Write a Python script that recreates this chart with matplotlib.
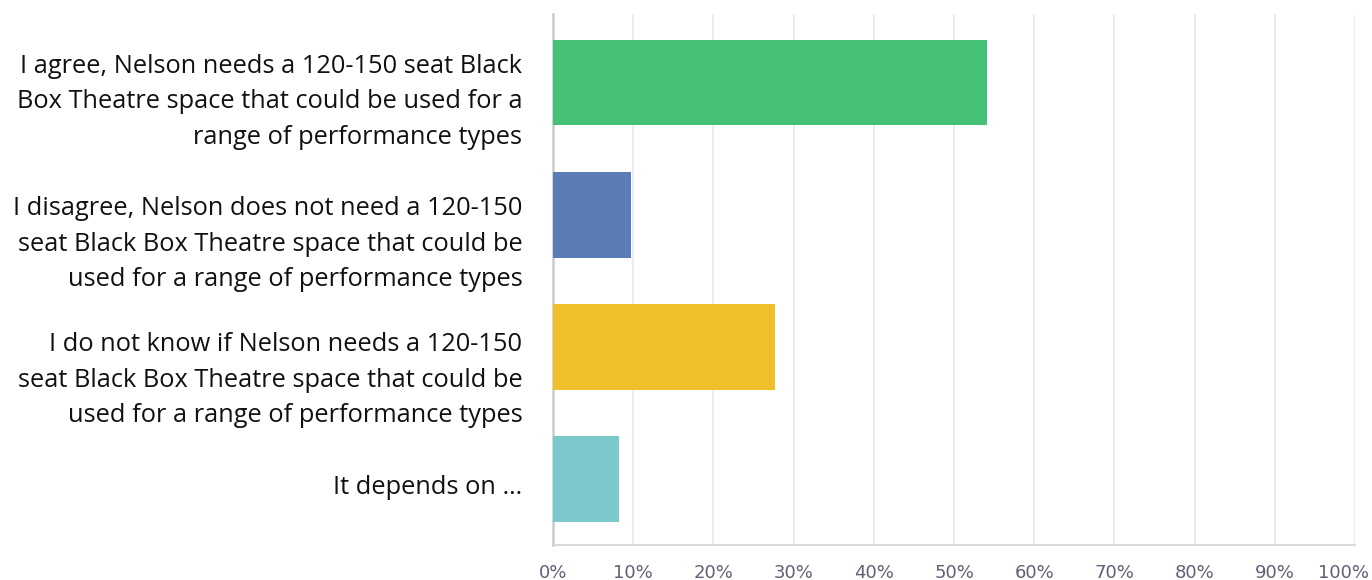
import matplotlib
matplotlib.use("Agg")
import matplotlib.pyplot as plt
from matplotlib.ticker import PercentFormatter
from matplotlib.transforms import ScaledTranslation

categories = [
    "I agree, Nelson needs a 120-150 seat Black\nBox Theatre space that could be used for a\nrange of performance types",
    "I disagree, Nelson does not need a 120-150\nseat Black Box Theatre space that could be\nused for a range of performance types",
    "I do not know if Nelson needs a 120-150\nseat Black Box Theatre space that could be\nused for a range of performance types",
    "It depends on \u2026",
]
values = [54.1, 9.7, 27.7, 8.2]
colors = ["#44c176", "#5b7db6", "#f1be2c", "#7cc9cc"]
xticks = list(range(0, 101, 10))

# vertical offsets (in pixels, downward) of the category labels as placed in the original
label_shift_px = [11, 21, 25, 6]

fig = plt.figure(figsize=(13.72, 5.8), dpi=100)
ax = fig.add_axes([0.4031, 0.0603, 0.9876 - 0.4031, 0.9759 - 0.0603])
y = list(range(len(categories)))
ax.barh(y, values, height=0.647, color=colors, zorder=3)
ax.set_ylim(3.5, -0.52)
ax.set_xlim(0, 100)
ax.set_xticks(xticks)
ax.xaxis.set_major_formatter(PercentFormatter(decimals=0))
ax.set_yticks(y)
ax.set_yticklabels(categories, fontsize=18.3, family="Open Sans", linespacing=1.56,
                   color="#111111")
ax.tick_params(axis="y", length=0, pad=22)
ax.tick_params(axis="x", length=0, pad=14, labelsize=13, labelcolor="#5e6077")
for lbl, dy in zip(ax.get_yticklabels(), label_shift_px):
    lbl.set_horizontalalignment("right")
    lbl.set_transform(lbl.get_transform() + ScaledTranslation(0, -dy / 100, fig.dpi_scale_trans))
xl = ax.get_xticklabels()
xl[-1].set_transform(xl[-1].get_transform() + ScaledTranslation(-11.5 / 100, 0, fig.dpi_scale_trans))
ax.grid(axis="x", color="#ebebeb", linewidth=1.3, zorder=0)
for s in ["top", "right"]:
    ax.spines[s].set_visible(False)
ax.spines["left"].set_color("#d0d0d0")
ax.spines["left"].set_linewidth(2)
ax.spines["bottom"].set_color("#d5d5d5")
ax.spines["bottom"].set_linewidth(1.3)
fig.savefig("out.png", dpi=100)
